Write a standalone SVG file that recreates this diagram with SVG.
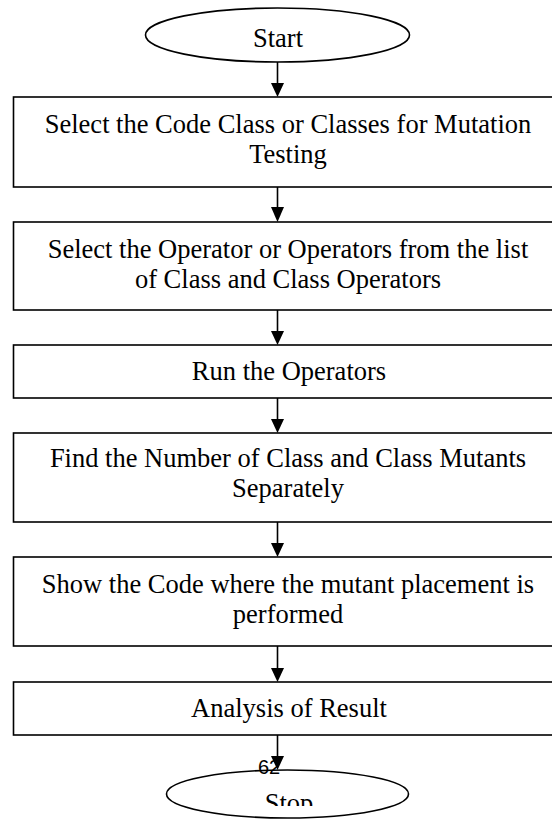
<svg xmlns="http://www.w3.org/2000/svg" width="552" height="820" viewBox="0 0 552 820">
<style>
.box{fill:#fff;stroke:#000;stroke-width:1.6}
.t{font-family:"Liberation Serif","Times New Roman",serif;font-size:26.5px;fill:#000;text-anchor:middle}
.c{stroke:#000;stroke-width:1.6;fill:none}
</style>
<defs>
<clipPath id="stopclip"><rect x="0" y="760" width="552" height="46"/></clipPath>
</defs>
<g id="connectors">
<line class="c" x1="277.5" y1="62" x2="277.5" y2="84"/><polygon points="271,83 284,83 277.5,97"/>
<line class="c" x1="277.5" y1="187" x2="277.5" y2="208"/><polygon points="271,207 284,207 277.5,222"/>
<line class="c" x1="277.5" y1="310" x2="277.5" y2="332"/><polygon points="271,331 284,331 277.5,345"/>
<line class="c" x1="277.5" y1="398" x2="277.5" y2="420"/><polygon points="271,419 284,419 277.5,433"/>
<line class="c" x1="277.5" y1="522" x2="277.5" y2="544"/><polygon points="271,543 284,543 277.5,557"/>
<line class="c" x1="277.5" y1="646" x2="277.5" y2="669"/><polygon points="271,668 284,668 277.5,682"/>
<line class="c" x1="277.5" y1="735" x2="277.5" y2="757"/><polygon points="271,756 284,756 277.5,770"/>
</g>
<g id="start">
<ellipse class="box" cx="277.5" cy="35" rx="132" ry="27"/>
<text class="t" x="278" y="47">Start</text>
</g>
<g id="n1">
<rect class="box" x="13.5" y="97" width="560" height="90"/>
<text class="t" x="288" y="133">Select the Code Class or Classes for Mutation</text>
<text class="t" x="288" y="163">Testing</text>
</g>
<g id="n2">
<rect class="box" x="13.5" y="222" width="560" height="88"/>
<text class="t" x="288" y="258">Select the Operator or Operators from the list</text>
<text class="t" x="288" y="288">of Class and Class Operators</text>
</g>
<g id="n3">
<rect class="box" x="13.5" y="345" width="560" height="53"/>
<text class="t" x="289" y="380">Run the Operators</text>
</g>
<g id="n4">
<rect class="box" x="13.5" y="433" width="560" height="89"/>
<text class="t" x="288" y="467">Find the Number of Class and Class Mutants</text>
<text class="t" x="288" y="497">Separately</text>
</g>
<g id="n5">
<rect class="box" x="13.5" y="557" width="560" height="89"/>
<text class="t" x="288" y="593">Show the Code where the mutant placement is</text>
<text class="t" x="288" y="623">performed</text>
</g>
<g id="n6">
<rect class="box" x="13.5" y="682" width="560" height="53"/>
<text class="t" x="289" y="717">Analysis of Result</text>
</g>
<g id="stop">
<ellipse class="box" cx="287.5" cy="794" rx="121" ry="24"/>
<text class="t" x="289" y="812" clip-path="url(#stopclip)">Stop</text>
</g>
<text x="258" y="774" style="font-family:'Liberation Sans',Arial,sans-serif;font-size:20px;fill:#000">62</text>
</svg>
